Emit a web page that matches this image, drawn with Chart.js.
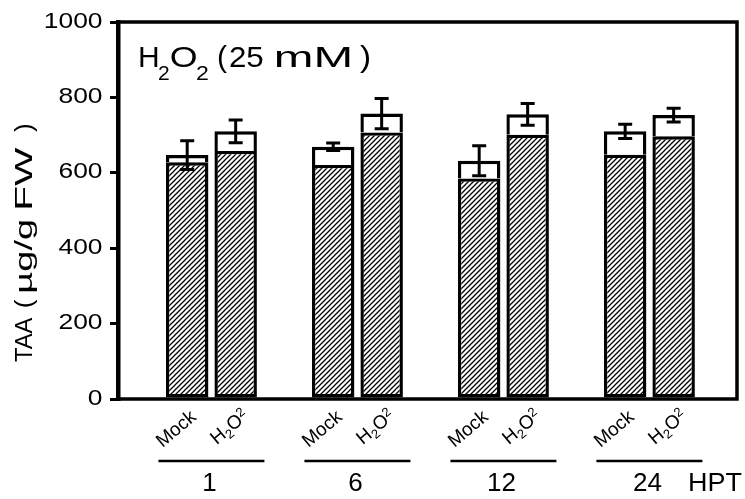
<!DOCTYPE html>
<html>
<head>
<meta charset="utf-8">
<script src="https://cdn.jsdelivr.net/npm/chart.js@4.4.1/dist/chart.umd.min.js"></script>
<style>
  html, body { margin: 0; padding: 0; background: #fff; }
  #wrap { width: 745px; height: 499px; }
</style>
</head>
<body>
<div id="wrap"><canvas id="chart" width="745" height="499"></canvas></div>
<script>
// hours post treatment
const timePoints = ['1', '6', '12', '24'];
// total ascorbate (µg/g FW)
const mockTotal = [647, 669, 632, 710];
const h2o2Total = [710, 757, 755, 753];
// reduced part of the total, drawn hatched
const mockReduced = [628, 621, 585, 648];
const h2o2Reduced = [658, 707, 701, 697];
// error of the total
const mockErr = [38, 10, 40, 19];
const h2o2Err = [30, 40, 29, 18];
const yTicks = [0, 200, 400, 600, 800, 1000];

const FONT = '"Liberation Sans", Arial, Helvetica, sans-serif';
const canvas = document.getElementById('chart');
const ctx = canvas.getContext('2d');

function makeHatch() {
  const c = document.createElement('canvas');
  c.width = c.height = 5;
  const g = c.getContext('2d');
  g.fillStyle = '#fff';
  g.fillRect(0, 0, 5, 5);
  g.strokeStyle = '#000';
  g.lineWidth = 1.3;
  g.beginPath();
  g.moveTo(-1, 6); g.lineTo(6, -1);
  g.moveTo(-1, 1); g.lineTo(1, -1);
  g.moveTo(4, 6); g.lineTo(6, 4);
  g.stroke();
  return ctx.createPattern(c, 'repeat');
}
const hatch = makeHatch();

const toPoints = arr => arr.map((y, i) => ({ x: i, y }));
const diff = (tot, red) => tot.map((t, i) => t - red[i]);

const hatchedStyle = {
  backgroundColor: hatch,
  borderColor: '#000',
  borderWidth: 3.4,
  borderSkipped: false
};
const openStyle = {
  backgroundColor: '#fff',
  borderColor: '#000',
  borderWidth: { top: 3.4, left: 3.4, right: 3.4, bottom: 0 },
  borderSkipped: false
};

// draws text so that its ink spans [left, right]
function inkText(g, text, left, right, baseline, font) {
  g.save();
  g.font = font;
  g.textAlign = 'left';
  g.textBaseline = 'alphabetic';
  const m = g.measureText(text);
  const ink = m.actualBoundingBoxLeft + m.actualBoundingBoxRight;
  g.translate(left, baseline);
  g.scale((right - left) / ink, 1);
  g.fillText(text, m.actualBoundingBoxLeft, 0);
  g.restore();
}

const decorations = {
  id: 'decorations',
  afterDatasetsDraw(chart) {
    const g = chart.ctx;
    const { left, right, top, bottom } = chart.chartArea;
    const yScale = chart.scales.y;
    g.save();
    g.fillStyle = '#000';
    g.strokeStyle = '#000';

    // frame: bottom axis, top and right edges
    g.lineWidth = 3.5;
    g.beginPath();
    g.moveTo(left, bottom); g.lineTo(right, bottom);
    g.moveTo(left, top); g.lineTo(right, top);
    g.moveTo(right, top - 1.75); g.lineTo(right, bottom + 1.75);
    g.stroke();

    // error bars on the totals
    const groups = [
      { meta: chart.getDatasetMeta(1), total: mockTotal, err: mockErr },
      { meta: chart.getDatasetMeta(3), total: h2o2Total, err: h2o2Err }
    ];
    g.lineWidth = 3;
    groups.forEach(({ meta, total, err }) => {
      meta.data.forEach((bar, i) => {
        const yHi = yScale.getPixelForValue(total[i] + err[i]);
        const yLo = yScale.getPixelForValue(total[i] - err[i]);
        g.beginPath();
        g.moveTo(bar.x, yHi); g.lineTo(bar.x, yLo);
        g.moveTo(bar.x - 7, yHi); g.lineTo(bar.x + 7, yHi);
        g.moveTo(bar.x - 7, yLo); g.lineTo(bar.x + 7, yLo);
        g.stroke();
      });
    });

    // y tick labels
    g.font = '22px ' + FONT;
    g.textAlign = 'right';
    g.textBaseline = 'middle';
    yTicks.forEach(v => {
      g.save();
      g.translate(102.5, yScale.getPixelForValue(v) - 0.5);
      g.scale(1.2, 1);
      g.fillText(String(v), 0, 0);
      g.restore();
    });

    // y axis title
    g.save();
    g.translate(32, 362);
    g.rotate(-Math.PI / 2);
    const yf = '23px ' + FONT;
    inkText(g, 'TAA', 0, 45, 0, yf);
    inkText(g, '(', 55, 63, 0, yf);
    inkText(g, 'µg/g', 70, 142, 0, yf);
    inkText(g, 'FW', 153, 215, 0, yf);
    inkText(g, ')', 230, 238, 0, yf);
    g.restore();

    // panel title
    const big = '30px ' + FONT, sub = '21px ' + FONT;
    inkText(g, 'H', 140, 158, 66.7, big);
    inkText(g, '2', 159, 169, 80, sub);
    inkText(g, 'O', 171, 196, 67, big);
    inkText(g, '2', 197, 208, 80, sub);
    inkText(g, '(', 218, 227, 67, big);
    inkText(g, '25', 230, 263, 66.7, big);
    inkText(g, 'mM', 277, 350, 66.7, big);
    inkText(g, ')', 360, 370, 67, big);

    // rotated treatment labels under each bar
    const ang = -40 * Math.PI / 180;
    chart.getDatasetMeta(0).data.forEach(bar => {
      g.save();
      g.translate(bar.x + 1, 408);
      g.rotate(ang);
      g.font = '19px ' + FONT;
      g.textAlign = 'right';
      g.textBaseline = 'alphabetic';
      g.fillText('Mock', 0, 14);
      g.restore();
    });
    chart.getDatasetMeta(2).data.forEach(bar => {
      g.save();
      g.translate(bar.x + 5, 407);
      g.rotate(ang);
      g.textAlign = 'left';
      g.textBaseline = 'alphabetic';
      const parts = [['H', 19, 0], ['2', 13, 4], ['O', 19, 0], ['2', 13, -6]];
      let w = 0;
      parts.forEach(([t, s]) => { g.font = s + 'px ' + FONT; w += g.measureText(t).width; });
      let x = -w;
      parts.forEach(([t, s, dy]) => {
        g.font = s + 'px ' + FONT;
        g.fillText(t, x, 14 + dy);
        x += g.measureText(t).width;
      });
      g.restore();
    });

    // time point brackets and labels
    const mockBars = chart.getDatasetMeta(0).data;
    const h2o2Bars = chart.getDatasetMeta(2).data;
    g.lineWidth = 2.7;
    g.font = '26px ' + FONT;
    g.textAlign = 'center';
    g.textBaseline = 'alphabetic';
    timePoints.forEach((t, i) => {
      const cx = (mockBars[i].x + h2o2Bars[i].x) / 2;
      g.beginPath();
      g.moveTo(cx - 53, 461); g.lineTo(cx + 53, 461);
      g.stroke();
      g.fillText(t, cx - 2, 491);
    });
    inkText(g, 'HPT', 690, 742, 491, '26px ' + FONT);

    g.restore();
  }
};

new Chart(ctx, {
  type: 'bar',
  data: {
    datasets: [
      { label: 'Mock reduced', stack: 'mock', data: toPoints(mockReduced), ...hatchedStyle },
      { label: 'Mock rest', stack: 'mock', data: toPoints(diff(mockTotal, mockReduced)), ...openStyle },
      { label: 'H2O2 reduced', stack: 'h2o2', data: toPoints(h2o2Reduced), ...hatchedStyle },
      { label: 'H2O2 rest', stack: 'h2o2', data: toPoints(diff(h2o2Total, h2o2Reduced)), ...openStyle }
    ]
  },
  options: {
    responsive: false,
    devicePixelRatio: 1,
    animation: false,
    categoryPercentage: 0.664,
    barPercentage: 0.876,
    layout: { padding: { left: 0, right: 8, top: 22, bottom: 100 } },
    plugins: { legend: { display: false }, tooltip: { enabled: false } },
    scales: {
      x: {
        type: 'linear',
        min: -0.64,
        max: 3.6,
        offset: false,
        display: false,
        afterBuildTicks: s => { s.ticks = timePoints.map((_, i) => ({ value: i })); }
      },
      y: {
        min: 0,
        max: 1000,
        stacked: true,
        afterFit: s => { s.width = 118; },
        afterBuildTicks: s => { s.ticks = yTicks.map(v => ({ value: v })); },
        ticks: { display: false },
        grid: { drawOnChartArea: false, drawTicks: true, tickLength: 8, lineWidth: 3, color: '#000' },
        border: { display: true, width: 4.5, color: '#000' }
      }
    }
  },
  plugins: [decorations]
});
</script>
</body>
</html>
